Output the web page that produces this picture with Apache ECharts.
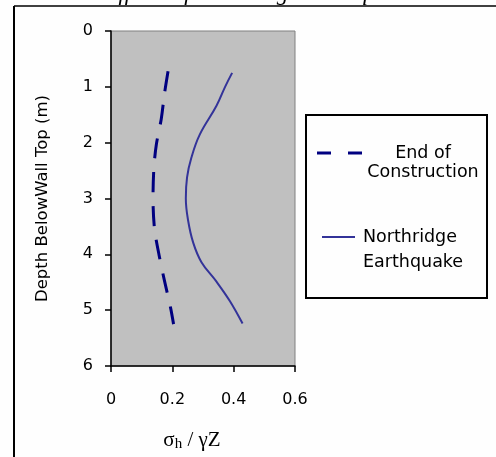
<!DOCTYPE html>
<html>
<head>
<meta charset="utf-8">
<script src="https://cdn.jsdelivr.net/npm/echarts@6/dist/echarts.min.js"></script>
<style>html,body{margin:0;padding:0;background:#fefefe}#c{width:496px;height:457px}</style>
</head>
<body>
<div id="c"></div>
<script>
// Data
const eocDepth = [0.72, 1.1, 1.57, 2.03, 2.44, 3.0, 3.55, 4.02, 4.49, 4.95, 5.25];
const eocValue = [0.186, 0.175, 0.164, 0.148, 0.140, 0.137, 0.142, 0.157, 0.175, 0.194, 0.204];
const nrDepth = [0.75, 1.0, 1.34, 1.86, 2.27, 2.62, 3.0, 3.38, 3.79, 4.14, 4.49, 4.84, 5.24];
const nrValue = [0.395, 0.372, 0.344, 0.289, 0.262, 0.248, 0.244, 0.251, 0.268, 0.295, 0.344, 0.388, 0.429];
const xTicks = [0, 0.2, 0.4, 0.6];
const yTicks = [0, 1, 2, 3, 4, 5, 6];
const seriesNames = ['End of\nConstruction', 'Northridge\nEarthquake'];

const chart = echarts.init(document.getElementById('c'));
const sans = 'DejaVu Sans';
chart.setOption({
  backgroundColor: '#fefefe',
  animation: false,
  grid: { left: 111, top: 31, right: 201, bottom: 85, show: true, backgroundColor: '#c0c0c0', borderColor: '#808080', borderWidth: 1 },
  xAxis: {
    type: 'value', min: xTicks[0], max: xTicks[xTicks.length - 1], interval: 0.2,
    axisLine: { show: true, onZero: false, lineStyle: { color: '#000', width: 1.5 } },
    axisTick: { show: true, length: 6, lineStyle: { color: '#000', width: 1.5 } },
    splitLine: { show: false },
    axisLabel: { margin: 26, color: '#000', fontFamily: sans, fontSize: 16, formatter: v => String(Math.round(v * 10) / 10) },
    name: '{s|σ}{sub|h}{s| / γZ}', nameLocation: 'middle', nameGap: 63,
    nameTextStyle: { padding: [0, 22, 0, 0], rich: {
      s: { fontFamily: 'Liberation Serif', fontSize: 21, color: '#000' },
      sub: { fontFamily: 'Liberation Serif', fontSize: 15, color: '#000', verticalAlign: 'bottom', padding: [8, 0, 0, 0] }
    } }
  },
  yAxis: {
    type: 'value', inverse: true, min: yTicks[0], max: yTicks[yTicks.length - 1], interval: 1,
    axisLine: { show: true, onZero: false, lineStyle: { color: '#000', width: 1.5 } },
    axisTick: { show: true, length: 6, lineStyle: { color: '#000', width: 1.5 } },
    splitLine: { show: false },
    axisLabel: { margin: 18, color: '#000', fontFamily: sans, fontSize: 16 },
    name: 'Depth BelowWall Top (m)', nameLocation: 'middle', nameGap: 60,
    nameTextStyle: { color: '#000', fontFamily: sans, fontSize: 16.5 }
  },
  series: [
    { name: seriesNames[0], type: 'line', smooth: 0.3, showSymbol: false,
      data: eocDepth.map((d, i) => [eocValue[i], d]),
      lineStyle: { color: '#000080', width: 3, type: [20, 14] } },
    { name: seriesNames[1], type: 'line', smooth: 0.4, showSymbol: false,
      data: nrDepth.map((d, i) => [nrValue[i], d]),
      lineStyle: { color: '#333399', width: 2 } }
  ],
  graphic: [
    { type: 'line', shape: { x1: 14, y1: 6, x2: 496, y2: 6 }, style: { stroke: '#000', lineWidth: 1.5 } },
    { type: 'line', shape: { x1: 14, y1: 6, x2: 14, y2: 457 }, style: { stroke: '#000', lineWidth: 2 } },
    { type: 'text', x: 258, y: 5, style: { text: 'Effects of Northridge Earthquake', fontFamily: 'Liberation Serif', fontStyle: 'italic', fontSize: 23, fill: '#000', textAlign: 'center', textVerticalAlign: 'bottom' } },
    { type: 'rect', shape: { x: 306, y: 115, width: 181, height: 183 }, style: { fill: '#fefefe', stroke: '#000', lineWidth: 2 } },
    { type: 'line', shape: { x1: 317, y1: 153, x2: 362, y2: 153 }, style: { stroke: '#000080', lineWidth: 3, lineDash: [14, 17] } },
    { type: 'text', x: 423, y: 153, style: { text: 'End of', fontFamily: sans, fontSize: 17.5, fill: '#000', textAlign: 'center', textVerticalAlign: 'middle' } },
    { type: 'text', x: 423, y: 172, style: { text: 'Construction', fontFamily: sans, fontSize: 17.5, fill: '#000', textAlign: 'center', textVerticalAlign: 'middle' } },
    { type: 'line', shape: { x1: 322, y1: 237, x2: 355, y2: 237 }, style: { stroke: '#333399', lineWidth: 2 } },
    { type: 'text', x: 363, y: 237, style: { text: 'Northridge', fontFamily: sans, fontSize: 17.5, fill: '#000', textAlign: 'left', textVerticalAlign: 'middle' } },
    { type: 'text', x: 363, y: 262, style: { text: 'Earthquake', fontFamily: sans, fontSize: 17.5, fill: '#000', textAlign: 'left', textVerticalAlign: 'middle' } }
  ]
});
</script>
</body>
</html>
